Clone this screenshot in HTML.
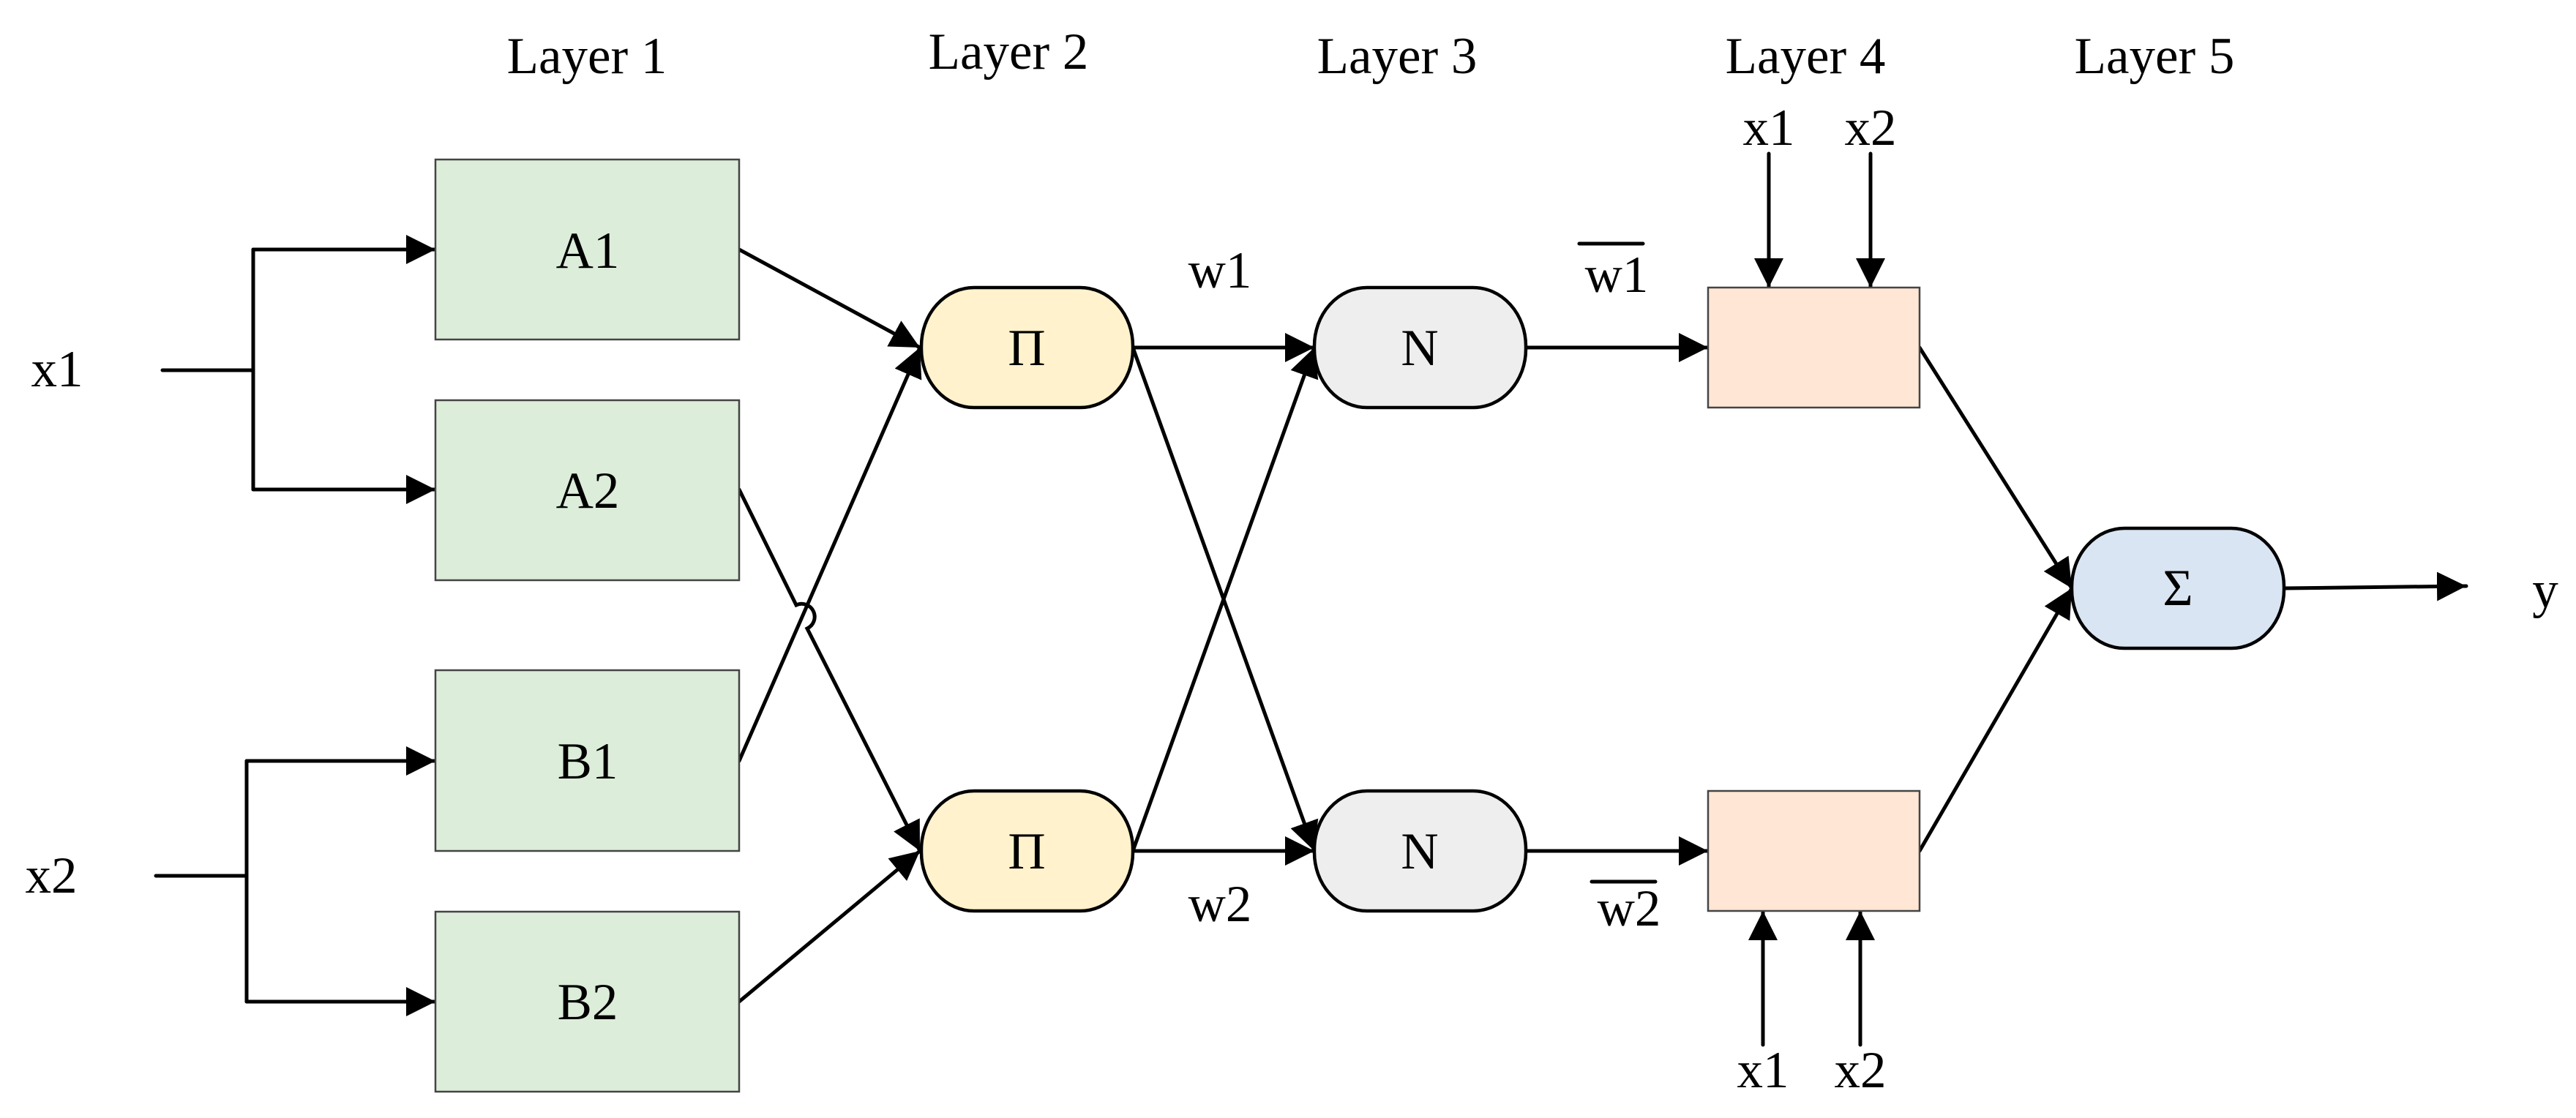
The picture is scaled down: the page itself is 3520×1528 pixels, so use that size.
<!DOCTYPE html>
<html><head><meta charset="utf-8"><style>
html,body{margin:0;padding:0;background:#fff;}
svg{display:block;}
text{font-family:"Liberation Serif",serif;font-size:71px;fill:#000;}
</style></head><body>
<svg width="3520" height="1528" viewBox="0 0 3520 1528" xmlns="http://www.w3.org/2000/svg">
<defs>
<marker id="ah" markerUnits="userSpaceOnUse" markerWidth="42" markerHeight="42" refX="40" refY="20" orient="auto">
<path d="M0,0 L40,20 L0,40 Z" fill="#000"/>
</marker>
</defs>
<g stroke="#000" stroke-width="5" fill="none" stroke-linecap="round">
<path d="M222,506 H346 M346,341 V669"/>
<path d="M346,341 H595" marker-end="url(#ah)"/>
<path d="M346,669 H595" marker-end="url(#ah)"/>
<path d="M213,1197 H337 M337,1040 V1369"/>
<path d="M337,1040 H595" marker-end="url(#ah)"/>
<path d="M337,1369 H595" marker-end="url(#ah)"/>
<path d="M1010,341 L1257,475" marker-end="url(#ah)"/>
<path d="M1010,1040 L1257,475" marker-end="url(#ah)"/>
<path d="M1010,669 L1088,827 A16,16 0 0 1 1103,859 L1257,1163" marker-end="url(#ah)"/>
<path d="M1010,1369 L1257,1163" marker-end="url(#ah)"/>
<path d="M1548,475 H1796" marker-end="url(#ah)"/>
<path d="M1548,1163 H1796" marker-end="url(#ah)"/>
<path d="M1548,475 L1796,1163" marker-end="url(#ah)"/>
<path d="M1548,1163 L1796,475" marker-end="url(#ah)"/>
<path d="M2085,475 H2334" marker-end="url(#ah)"/>
<path d="M2085,1163 H2334" marker-end="url(#ah)"/>
<path d="M2417,210 V393" marker-end="url(#ah)"/>
<path d="M2556,210 V393" marker-end="url(#ah)"/>
<path d="M2409,1428 V1245" marker-end="url(#ah)"/>
<path d="M2542,1428 V1245" marker-end="url(#ah)"/>
<path d="M2623,475 L2831,804" marker-end="url(#ah)"/>
<path d="M2623,1163 L2831,804" marker-end="url(#ah)"/>
<path d="M3121,804 L3370,801" marker-end="url(#ah)"/>
<path d="M2158,333 H2245"/>
<path d="M2175,1205 H2262"/>
</g>
<g stroke="#444" stroke-width="2.5" fill="#dcedda">
<rect x="595" y="218" width="415" height="246"/>
<rect x="595" y="547" width="415" height="246"/>
<rect x="595" y="916" width="415" height="247"/>
<rect x="595" y="1246" width="415" height="246"/>
</g>
<g stroke="#444" stroke-width="2.5" fill="#ffe6d5">
<rect x="2334" y="393" width="289" height="164"/>
<rect x="2334" y="1081" width="289" height="164"/>
</g>
<g stroke="#000" stroke-width="4.5">
<rect x="1259" y="393" width="289" height="164" rx="72" ry="80" fill="#fff2cc"/>
<rect x="1259" y="1081" width="289" height="164" rx="72" ry="80" fill="#fff2cc"/>
<rect x="1796" y="393" width="289" height="164" rx="72" ry="80" fill="#eeeeee"/>
<rect x="1796" y="1081" width="289" height="164" rx="72" ry="80" fill="#eeeeee"/>
<rect x="2831" y="722" width="290" height="164" rx="72" ry="80" fill="#dae5f3"/>
</g>
<g text-anchor="middle">
<text x="802" y="100">Layer 1</text>
<text x="1378" y="94">Layer 2</text>
<text x="1909" y="100">Layer 3</text>
<text x="2467" y="100">Layer 4</text>
<text x="2944" y="100">Layer 5</text>
<text x="803" y="366">A1</text>
<text x="803" y="694">A2</text>
<text x="803" y="1064">B1</text>
<text x="803" y="1393">B2</text>
<text x="1403" y="499">Π</text>
<text x="1403" y="1187">Π</text>
<text x="1940" y="499">N</text>
<text x="1940" y="1187">N</text>
<text x="2976" y="827">Σ</text>
<text x="1667" y="393">w1</text>
<text x="1667" y="1259">w2</text>
<text x="2209" y="399">w1</text>
<text x="2226" y="1265">w2</text>
<text x="2417" y="198">x1</text>
<text x="2556" y="198">x2</text>
<text x="2409" y="1486">x1</text>
<text x="2542" y="1486">x2</text>
<text x="78" y="528">x1</text>
<text x="70" y="1220">x2</text>
<text x="3478" y="830">y</text>
</g>
</svg>
</body></html>
